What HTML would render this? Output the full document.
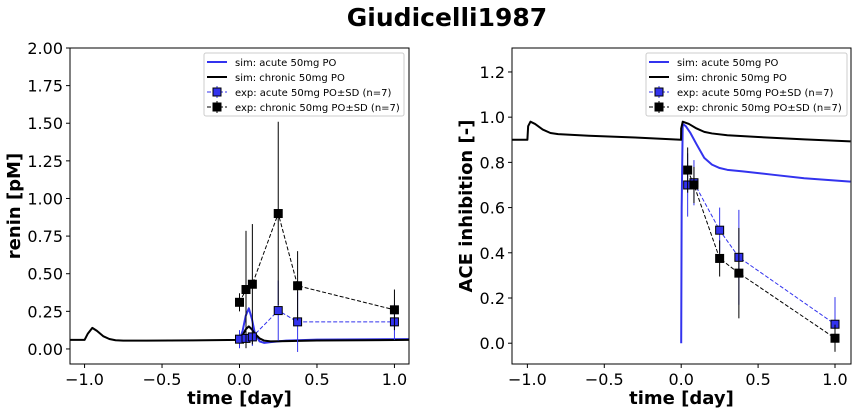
<!DOCTYPE html>
<html><head><meta charset="utf-8"><style>
body{margin:0;background:#fff;}
svg{display:block;font-family:"DejaVu Sans","Liberation Sans",sans-serif;}
</style></head><body>
<svg id="fig" width="857" height="415" xmlns="http://www.w3.org/2000/svg">
<text x="447" y="26" text-anchor="middle" font-size="25" font-weight="bold">Giudicelli1987</text>
</svg>
<script>
// ---- data: renin panel ----
const expTimes = [0, 0.042, 0.083, 0.25, 0.375, 1.0];
const reninAcute = [0.065, 0.07, 0.08, 0.255, 0.18, 0.18];
const reninAcuteSD = [0.06, 0.06, 0.06, 0.2, 0.2, 0.12];
const reninChronic = [0.31, 0.395, 0.43, 0.90, 0.42, 0.26];
const reninChronicSD = [0.06, 0.39, 0.40, 0.61, 0.23, 0.135];
const reninSimT = [-1.1,-1.0,-0.98,-0.95,-0.92,-0.88,-0.84,-0.8,-0.75,-0.6,-0.3,0,0.02,0.04,0.06,0.08,0.1,0.13,0.16,0.2,0.3,0.5,0.8,1.1];
const reninSimChronic = [0.06,0.06,0.1,0.14,0.12,0.085,0.066,0.058,0.055,0.055,0.057,0.06,0.09,0.13,0.15,0.13,0.1,0.07,0.055,0.05,0.052,0.056,0.058,0.06];
const reninSimAcuteT = [0,0.02,0.04,0.06,0.08,0.1,0.13,0.16,0.2,0.3,0.5,0.8,1.1];
const reninSimAcute = [0.06,0.12,0.22,0.27,0.2,0.1,0.05,0.04,0.045,0.055,0.062,0.064,0.065];
// ---- data: ACE panel ----
const aceAcute = [0.70, 0.71, 0.50, 0.38, 0.084];
const aceAcuteSD = [0.14, 0.1, 0.1, 0.21, 0.12];
const aceChronic = [0.766, 0.70, 0.375, 0.31, 0.022];
const aceChronicSD = [0.1, 0.08, 0.08, 0.2, 0.06];
const aceTimes = [0.042, 0.083, 0.25, 0.375, 1.0];
const aceSimT = [-1.1,-1.0,-0.995,-0.98,-0.95,-0.9,-0.85,-0.8,-0.6,-0.3,-0.001,0,0.01,0.05,0.1,0.15,0.2,0.3,0.5,0.8,1.1];
const aceSimChronic = [0.90,0.90,0.96,0.98,0.97,0.945,0.93,0.925,0.918,0.91,0.90,0.95,0.98,0.97,0.95,0.935,0.928,0.92,0.912,0.902,0.893];
const aceSimAcuteT = [0,0.003,0.01,0.03,0.06,0.1,0.15,0.2,0.25,0.3,0.4,0.6,0.8,1.1];
const aceSimAcute = [0,0.6,0.97,0.96,0.93,0.88,0.82,0.79,0.775,0.767,0.76,0.745,0.73,0.715];
const xTicks = [-1.0,-0.5,0.0,0.5,1.0];
const reninYTicks = [0,0.25,0.5,0.75,1.0,1.25,1.5,1.75,2.0];
const aceYTicks = [0,0.2,0.4,0.6,0.8,1.0,1.2];

const NS="http://www.w3.org/2000/svg";
const fig=document.getElementById('fig');
function mk(tag,attrs,parent){const e=document.createElementNS(NS,tag);for(const k in attrs)e.setAttribute(k,attrs[k]);(parent||fig).appendChild(e);return e;}

function panel(o){
  const g=mk('g',{});
  
  
  const sx=v=>o.L+(v-o.x0)/(o.x1-o.x0)*(o.R-o.L);
  const sy=v=>o.B-(v-o.y0)/(o.y1-o.y0)*(o.B-o.T);
  const clip='clip-'+o.name;
  const cp=mk('clipPath',{id:clip},g);mk('rect',{x:o.L,y:o.T,width:o.R-o.L,height:o.B-o.T},cp);
  const pg=mk('g',{'clip-path':'url(#'+clip+')'},g);
  function line(xs,ys,color,nm){
    const p=mk('polyline',{points:xs.map((x,i)=>sx(x)+','+sy(ys[i])).join(' '),fill:'none',stroke:color,'stroke-width':2,'stroke-linejoin':'round'},pg);
    
    
  }
  function exp(xs,ys,sd,color,nm){
    const grp=mk('g',{},pg);
    
    
    xs.forEach((x,i)=>mk('line',{x1:sx(x),x2:sx(x),y1:sy(ys[i]-sd[i]),y2:sy(ys[i]+sd[i]),stroke:color,'stroke-width':1},grp));
    mk('polyline',{points:xs.map((x,i)=>sx(x)+','+sy(ys[i])).join(' '),fill:'none',stroke:color,'stroke-width':1,'stroke-dasharray':'4,2'},grp);
    xs.forEach((x,i)=>{const r=mk('rect',{x:sx(x)-4,y:sy(ys[i])-4,width:8,height:8,fill:color,stroke:'#000','stroke-width':1},grp);
      
      });
  }
  line(o.simAT,o.simA,'#3333ee','sim-acute-line');
  line(o.simCT,o.simC,'#000','sim-chronic-line');
  exp(o.expT,o.expA,o.expASD,'#3333ee','exp-acute-series');
  exp(o.expT,o.expC,o.expCSD,'#000','exp-chronic-series');
  mk('rect',{x:o.L,y:o.T,width:o.R-o.L,height:o.B-o.T,fill:'none',stroke:'#000','stroke-width':1},g);
  xTicks.forEach(t=>{const x=sx(t);mk('line',{x1:x,x2:x,y1:o.B,y2:o.B+4,stroke:'#000'},g);
    const tx=mk('text',{x:x,y:o.B+21,'text-anchor':'middle','font-size':16},g);tx.textContent=(t<0?'\u2212':'')+Math.abs(t).toFixed(1);
    
    });
  o.yTicks.forEach(t=>{const y=sy(t);mk('line',{x1:o.L-4,x2:o.L,y1:y,y2:y,stroke:'#000'},g);
    const tx=mk('text',{x:o.L-7,y:y+6,'text-anchor':'end','font-size':16},g);tx.textContent=t.toFixed(o.dec);
    
    });
  const xl=mk('text',{x:(o.L+o.R)/2,y:404,'text-anchor':'middle','font-size':18,'font-weight':'bold'},g);xl.textContent='time [day]';
  
  
  const yl=mk('text',{x:0,y:0,'text-anchor':'middle','font-size':18,'font-weight':'bold',transform:'translate('+o.ylx+','+(o.T+o.B)/2+') rotate(-90)'},g);yl.textContent=o.ylabel;
  
  
  const lg=mk('g',{},g);
  
  
  const lx=o.legX, ly=53;
  mk('rect',{x:lx,y:ly,width:o.legW,height:63,fill:'#fff',stroke:'#ccc',rx:2},lg);
  const items=[['sim: acute 50mg PO','#3333ee',false],['sim: chronic 50mg PO','#000',false],['exp: acute 50mg PO\u00b1SD (n=7)','#3333ee',true],['exp: chronic 50mg PO\u00b1SD (n=7)','#000',true]];
  items.forEach((it,i)=>{const y=ly+9+i*15;
    const e=mk('g',{},lg);
    
    
    if(!it[2]) mk('line',{x1:lx+3,x2:lx+23,y1:y,y2:y,stroke:it[1],'stroke-width':2},e);
    else{mk('line',{x1:lx+3,x2:lx+23,y1:y,y2:y,stroke:it[1],'stroke-width':1,'stroke-dasharray':'4,2'},e);
      mk('line',{x1:lx+13,x2:lx+13,y1:y-6,y2:y+6,stroke:it[1]},e);
      mk('rect',{x:lx+9,y:y-4,width:8,height:8,fill:it[1],stroke:'#000'},e);}
    const t=mk('text',{x:lx+31,y:y+4,'font-size':10},e);t.textContent=it[0];});
}
panel({name:'renin-panel',L:70,R:409,T:48,B:364,x0:-1.094,x1:1.094,y0:-0.1,y1:2.0,yTicks:reninYTicks,dec:2,ylabel:'renin [pM]',ylx:20,
  simAT:reninSimAcuteT,simA:reninSimAcute,simCT:reninSimT,simC:reninSimChronic,expT:expTimes,expA:reninAcute,expASD:reninAcuteSD,expC:reninChronic,expCSD:reninChronicSD,legX:204,legW:200});
panel({name:'ace-panel',L:512,R:851,T:48,B:364,x0:-1.1,x1:1.104,y0:-0.092,y1:1.306,yTicks:aceYTicks,dec:1,ylabel:'ACE inhibition [-]',ylx:472,
  simAT:aceSimAcuteT,simA:aceSimAcute,simCT:aceSimT,simC:aceSimChronic,expT:aceTimes,expA:aceAcute,expASD:aceAcuteSD,expC:aceChronic,expCSD:aceChronicSD,legX:646,legW:201});
</script>
</body></html>
